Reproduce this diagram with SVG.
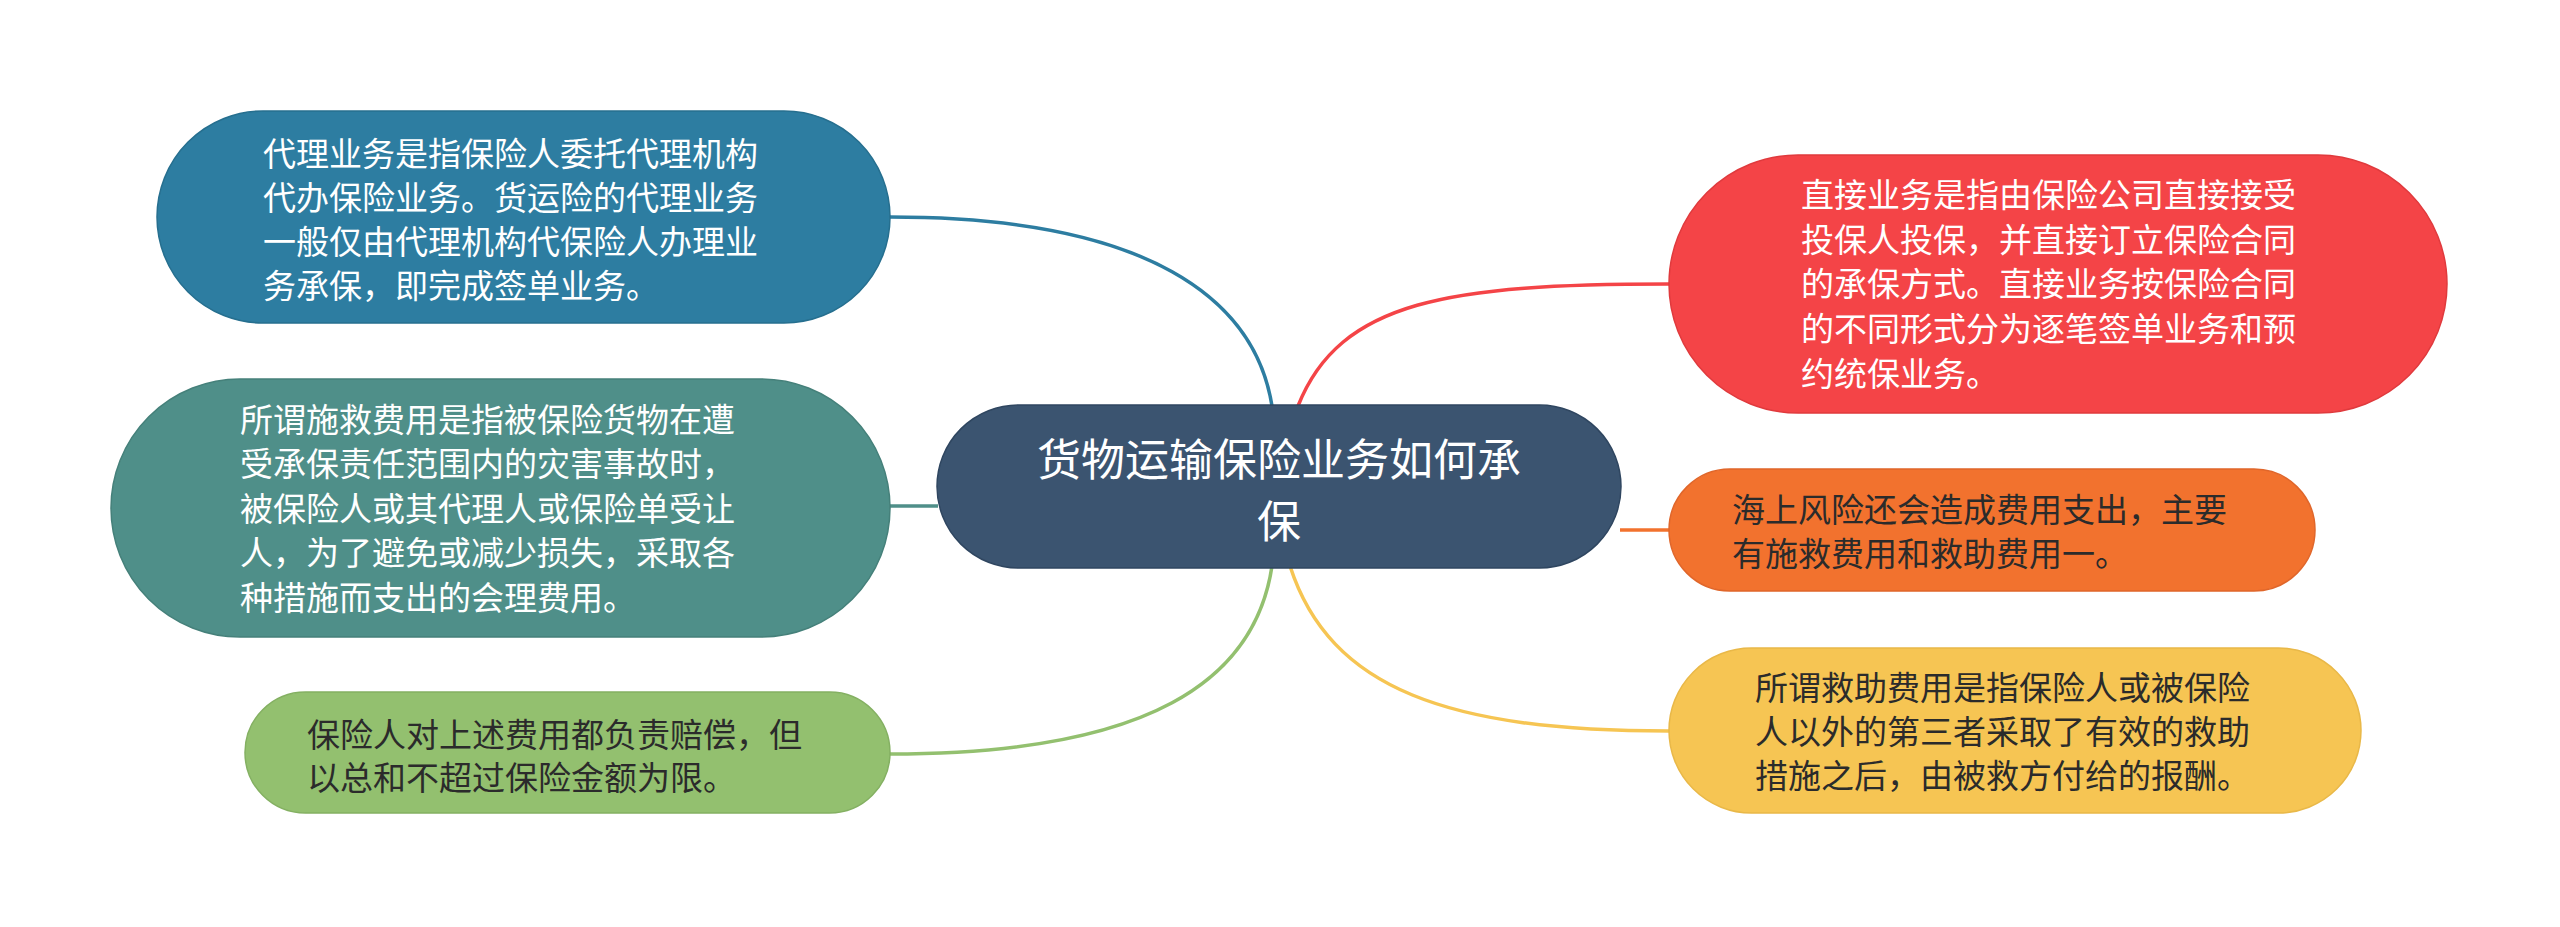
<svg xmlns="http://www.w3.org/2000/svg" width="2560" height="927" viewBox="0 0 2560 927">
<style>
text{font-family:"Noto Sans CJK SC","Liberation Sans",sans-serif;dominant-baseline:central}
.t{font-size:33px}
.w{fill:#ffffff}
.d{fill:#2b2b2b}
.c{font-size:44px;fill:#ffffff;text-anchor:middle}
.e{fill:none;stroke-width:3.5}
</style>
<rect width="2560" height="927" fill="#ffffff"/>
<g id="connectors">
<path class="e" stroke="#2d7da1" d="M890,217 C1150,217 1255,300 1272,406"/>
<path class="e" stroke="#4f8f89" d="M890,506 L938,506"/>
<path class="e" stroke="#93c06f" d="M890,754 C1150,754 1255,680 1272,566"/>
<path class="e" stroke="#f44447" d="M1298,406 C1340,300 1450,284 1669,284"/>
<path class="e" stroke="#f2722e" d="M1620,530 L1670,530"/>
<path class="e" stroke="#f6c553" d="M1290,566 C1330,690 1450,731 1669,731"/>
</g>
<g id="center">
<rect x="937" y="405" width="684" height="163" rx="81.5" fill="#3b5470" stroke="#2f4660" stroke-width="1.5"/>
<text class="c" x="1279" y="457">货物运输保险业务如何承</text>
<text class="c" x="1279" y="519">保</text>
</g>
<g id="n1">
<rect x="157" y="111" width="733" height="212" rx="106" fill="#2d7da1" stroke="#266f8f" stroke-width="1.5"/>
<text class="t w" x="263" y="152">代理业务是指保险人委托代理机构</text>
<text class="t w" x="263" y="196">代办保险业务。货运险的代理业务</text>
<text class="t w" x="263" y="240">一般仅由代理机构代保险人办理业</text>
<text class="t w" x="263" y="284">务承保，即完成签单业务。</text>
</g>
<g id="n2">
<rect x="111" y="379" width="779" height="258" rx="129" fill="#4f8f89" stroke="#45807a" stroke-width="1.5"/>
<text class="t w" x="240" y="418">所谓施救费用是指被保险货物在遭</text>
<text class="t w" x="240" y="462">受承保责任范围内的灾害事故时，</text>
<text class="t w" x="240" y="507">被保险人或其代理人或保险单受让</text>
<text class="t w" x="240" y="551">人，为了避免或减少损失，采取各</text>
<text class="t w" x="240" y="596">种措施而支出的会理费用。</text>
</g>
<g id="n3">
<rect x="245" y="692" width="645" height="121" rx="60.5" fill="#93c06f" stroke="#84b062" stroke-width="1.5"/>
<text class="t d" x="307" y="733">保险人对上述费用都负责赔偿，但</text>
<text class="t d" x="307" y="776">以总和不超过保险金额为限。</text>
</g>
<g id="n4">
<rect x="1669" y="155" width="778" height="258" rx="129" fill="#f44447" stroke="#e03a3d" stroke-width="1.5"/>
<text class="t w" x="1801" y="193">直接业务是指由保险公司直接接受</text>
<text class="t w" x="1801" y="238">投保人投保，并直接订立保险合同</text>
<text class="t w" x="1801" y="282">的承保方式。直接业务按保险合同</text>
<text class="t w" x="1801" y="327">的不同形式分为逐笔签单业务和预</text>
<text class="t w" x="1801" y="372">约统保业务。</text>
</g>
<g id="n5">
<rect x="1669" y="469" width="646" height="122" rx="61" fill="#f2722e" stroke="#e0662a" stroke-width="1.5"/>
<text class="t d" x="1732" y="508">海上风险还会造成费用支出，主要</text>
<text class="t d" x="1732" y="552">有施救费用和救助费用一。</text>
</g>
<g id="n6">
<rect x="1669" y="648" width="692" height="165" rx="82.5" fill="#f6c553" stroke="#e9b848" stroke-width="1.5"/>
<text class="t d" x="1755" y="686">所谓救助费用是指保险人或被保险</text>
<text class="t d" x="1755" y="730">人以外的第三者采取了有效的救助</text>
<text class="t d" x="1755" y="774">措施之后，由被救方付给的报酬。</text>
</g>
</svg>
